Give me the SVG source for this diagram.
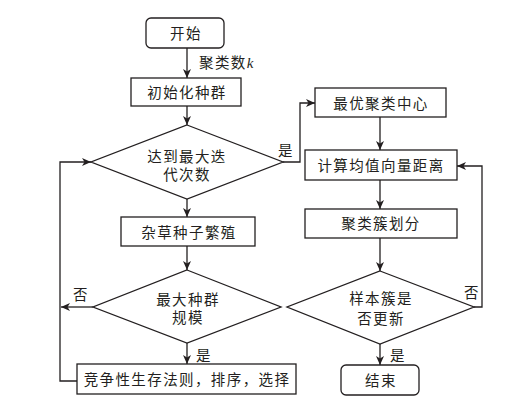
<svg xmlns="http://www.w3.org/2000/svg" width="509" height="409" viewBox="0 0 509 409">
<defs>
<marker id="ah" markerWidth="10" markerHeight="8" refX="9" refY="4" orient="auto" markerUnits="userSpaceOnUse">
<path d="M0,0 L9,4 L0,8 L2.5,4 z" fill="#231f20"/>
</marker>
<style>
.n{fill:#fff;stroke:#231f20;stroke-width:1.3}
.c{fill:none;stroke:#231f20;stroke-width:1.3;marker-end:url(#ah)}
text{font-family:"Noto Sans CJK SC","Noto Sans",sans-serif;font-size:14.5px;letter-spacing:1.4px;fill:#231f20}
.m{text-anchor:middle}
.k{font-family:"Liberation Serif",serif;font-style:italic;font-size:15px}
</style>
</defs>
<rect width="509" height="409" fill="#fff"/>
<g id="connectors">
<line class="c" x1="187" y1="48" x2="187" y2="78"/>
<line class="c" x1="187" y1="106" x2="187" y2="125"/>
<line class="c" x1="187" y1="199" x2="187" y2="217"/>
<line class="c" x1="187" y1="246" x2="187" y2="270"/>
<line class="c" x1="187" y1="343" x2="187" y2="364"/>
<line class="c" x1="93" y1="307" x2="61" y2="307"/>
<polyline class="c" points="77,381 60,381 60,162 91,162"/>
<polyline class="c" points="283,162 300,162 300,103 315,103"/>
<line class="c" x1="380" y1="117" x2="380" y2="150"/>
<line class="c" x1="380" y1="180" x2="380" y2="209"/>
<line class="c" x1="380" y1="238" x2="380" y2="271"/>
<line class="c" x1="380" y1="344" x2="380" y2="365"/>
<polyline class="c" points="474,307 482,307 482,166 457,166"/>
<text x="199" y="68">聚类数<tspan class="k">k</tspan></text>
<text x="278" y="156">是</text>
<text x="73" y="300">否</text>
<text x="196" y="361">是</text>
<text x="464" y="298">否</text>
<text x="390" y="361">是</text>
</g>
<g id="start"><rect class="n" x="146" y="18" width="78" height="30" rx="5"/><text class="m" x="186" y="38.5">开始</text></g>
<g id="init"><rect class="n" x="131" y="78" width="110" height="28"/><text class="m" x="187" y="97.5">初始化种群</text></g>
<g id="maxiter"><polygon class="n" points="187,125 283,162 187,199 91,162"/><text class="m" x="187" y="161.5">达到最大迭</text><text class="m" x="187" y="179.5">代次数</text></g>
<g id="weed"><rect class="n" x="121" y="217" width="134" height="29"/><text class="m" x="189" y="237.5">杂草种子繁殖</text></g>
<g id="maxpop"><polygon class="n" points="187,270 281,307 187,343 93,307"/><text class="m" x="188" y="304.5">最大种群</text><text class="m" x="188" y="322.5">规模</text></g>
<g id="compete"><rect class="n" x="77" y="364" width="219" height="30"/><text class="m" x="187" y="384.5">竞争性生存法则，排序，选择</text></g>
<g id="best"><rect class="n" x="315" y="88" width="131" height="29"/><text class="m" x="381" y="108.5">最优聚类中心</text></g>
<g id="compute"><rect class="n" x="305" y="150" width="152" height="30"/><text class="m" x="381" y="170.5">计算均值向量距离</text></g>
<g id="divide"><rect class="n" x="305" y="209" width="152" height="29"/><text class="m" x="381" y="229">聚类簇划分</text></g>
<g id="updated"><polygon class="n" points="380,271 474,307 380,344 287,307"/><text class="m" x="381" y="303.5">样本簇是</text><text class="m" x="381" y="323.5">否更新</text></g>
<g id="end"><rect class="n" x="341" y="365" width="78" height="30" rx="5"/><text class="m" x="381" y="385.5">结束</text></g>
</svg>
